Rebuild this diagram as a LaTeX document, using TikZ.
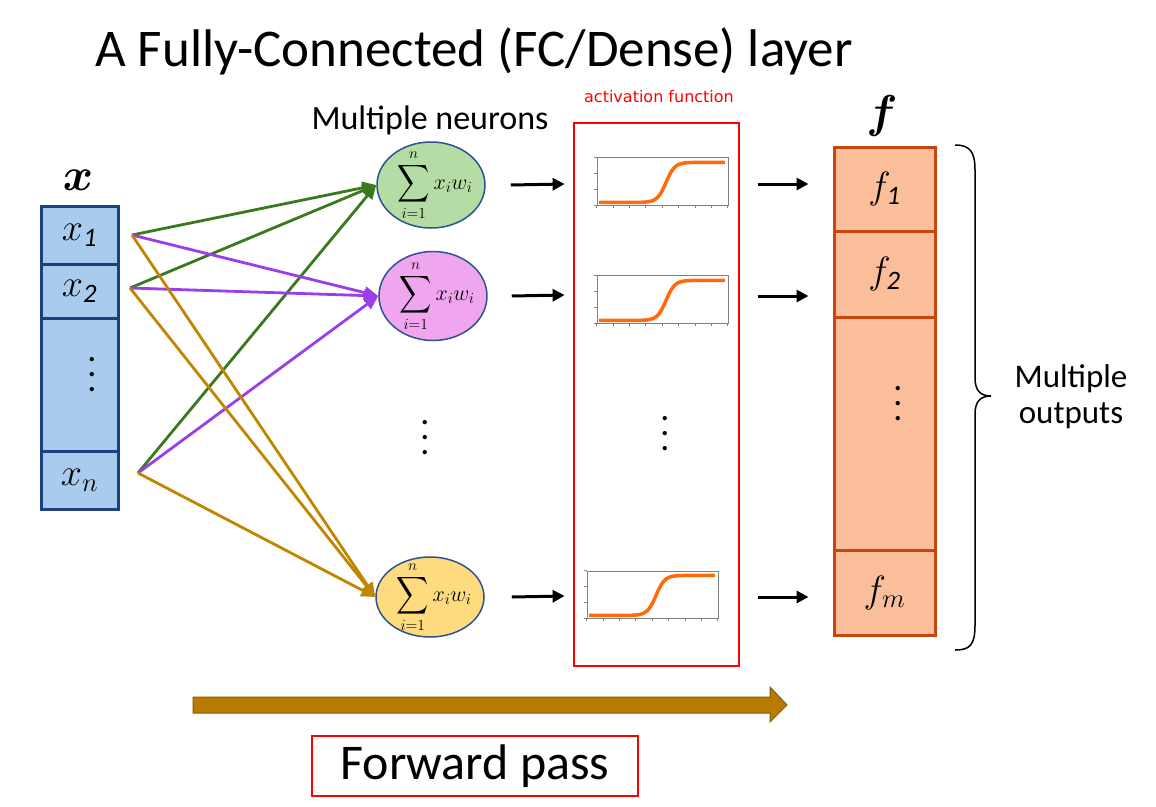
\RequirePackage{fix-cm}
\documentclass[tikz,border=0pt]{standalone}
\usepackage{amsmath}
\usepackage{graphicx}
\usepackage{fontspec}
\setmainfont{Carlito}
\newfontfamily\djv{DejaVu Sans}
\usetikzlibrary{arrows.meta,shapes.geometric}
\definecolor{inblue}{HTML}{A9CCEE}
\definecolor{inborder}{HTML}{1F4080}
\definecolor{cgreen}{HTML}{B4DCA4}
\definecolor{cpink}{HTML}{F0A6EE}
\definecolor{cyellow}{HTML}{FDDB7E}
\definecolor{ebord}{HTML}{2F528F}
\definecolor{lgreen}{HTML}{3A7A1E}
\definecolor{lpurple}{HTML}{9A3FE8}
\definecolor{lgold}{HTML}{C08600}
\definecolor{ffill}{HTML}{FBBE9B}
\definecolor{fbord}{HTML}{C8460A}
\definecolor{sigc}{HTML}{FF6A0A}
\definecolor{fwd}{HTML}{B87A00}
\definecolor{fwdb}{HTML}{8A5C00}
\tikzset{
  incell/.style={draw=inborder, fill=inblue, line width=3pt, minimum width=77pt, inner sep=0pt, font=\fontsize{38}{44}\selectfont},
  fcell/.style={draw=fbord, fill=ffill, line width=3pt, minimum width=101pt, inner sep=0pt, font=\fontsize{38}{44}\selectfont},
  neuron/.style={ellipse, draw=ebord, line width=1.5pt, minimum width=108pt, minimum height=86pt, inner sep=0pt},
  sumtext/.style={inner sep=0pt, font=\fontsize{22}{26}\selectfont},
  conn/.style={line width=2.8pt, -{Triangle[length=14pt,width=12pt]}},
  blk/.style={line width=3pt, black, -{Triangle[length=12pt,width=12pt]}},
  plotframe/.style={draw=gray, line width=0.8pt, minimum width=131pt, minimum height=48pt, inner sep=0pt},
  sig/.style={sigc, line width=3.5pt},
  dots/.style={align=center, inner sep=0pt, font=\fontsize{36}{15}\selectfont},
  bigfont/.style={font=\fontsize{46}{50}\selectfont}
}
\newcommand{\bigsum}{\mathop{\vcenter{\hbox{\scalebox{0.9}[1.05]{\fontsize{26}{26}\selectfont$\displaystyle\sum$}}}}\limits_{i=1}^{n} x_i w_i}
\newcommand{\vdotstext}{.\\.\\.}
\newcommand{\sigcurve}[1]{%
  \begin{scope}[shift={(#1.south west)}]
    \draw[sig] plot[domain=0.02:0.98, samples=60, smooth] ({131*\x}, {-3-40*(0.5+0.5*tanh(15*(\x-0.53)))});
    \foreach \k in {0,1,...,8} \draw[gray, line width=0.6pt] ({131*\k/8},0) -- ++(0,2.5);
    \foreach \k in {0,1,2,3} \draw[gray, line width=0.6pt] (0,{-48*\k/3}) -- ++(-2.5,0);
  \end{scope}}
\begin{document}
\begin{tikzpicture}[x=1pt,y=-1pt]
\useasboundingbox[fill=white] (0,0) rectangle (1156,806);

% title
\node[anchor=base west, inner sep=0pt, font=\fontsize{53}{60}\selectfont] (title) at (95,66) {A Fully-Connected (FC/Dense) layer};

% input vector
\node[bigfont] (xlab) at (78,180) {$\boldsymbol{x}$};
\node[incell, minimum height=58pt] (x1) at (79.5,235) {$x_{\mathit{1}}$};
\node[incell, minimum height=54pt] (x2) at (79.5,291) {$x_{\mathit{2}}$};
\node[incell, minimum height=133pt] (xd) at (79.5,384.5) {};
\node[incell, minimum height=58pt] (xn) at (79.5,480) {$x_n$};
\node[dots] (xdots) at (92,375) {\vdotstext};

\coordinate (o1) at (132,235);
\coordinate (o2) at (130,288);
\coordinate (on) at (138,473);

% neurons
\node[neuron, fill=cgreen] (g) at (431,185) {};
\node[sumtext] (gt) at ([xshift=4pt]g.center) {$\bigsum$};
\node[neuron, fill=cpink, minimum height=89pt] (p) at (433,296) {};
\node[sumtext] (pt) at ([xshift=4pt]p.center) {$\bigsum$};
\node[neuron, fill=cyellow, minimum height=80pt] (y) at (430,597) {};
\node[sumtext] (yt) at ([xshift=4pt]y.center) {$\bigsum$};
\node[dots] (ndots) at (425,438) {\vdotstext};
\node[font=\fontsize{34}{40}\selectfont] (mn) at (430,120) {Multiple neurons};

% connections
\draw[conn, lgreen] (o1) -- (g.west);
\draw[conn, lgreen] (o2) -- (g.west);
\draw[conn, lgreen] (on) -- (g.west);
\draw[conn, lpurple] (o1) -- (p.west);
\draw[conn, lpurple] (o2) -- (p.west);
\draw[conn, lpurple] (on) -- (p.west);
\draw[conn, lgold] (o1) -- (y.west);
\draw[conn, lgold] (o2) -- (y.west);
\draw[conn, lgold] (on) -- (y.west);

% activation box
\node[draw=red, line width=2pt, minimum width=165pt, minimum height=543pt, inner sep=0pt] (act) at (656.5,394.5) {};
\node[text=red, font=\djv\fontsize{16}{18}\selectfont] (actlab) at (659,97) {activation function};
\node[plotframe] (s1) at (662.5,181) {};
\node[plotframe] (s2) at (662.5,299) {};
\node[plotframe, minimum height=47pt] (s3) at (652.5,594.5) {};
\sigcurve{s1}
\sigcurve{s2}
\sigcurve{s3}
\node[dots] (adots) at (665,434) {\vdotstext};

% arrows neuron -> activation
\draw[blk] ([xshift=25pt]g.east) -- ([xshift=-32pt,yshift=-3pt]s1.west);
\draw[blk] ([xshift=24pt]p.east) -- ([xshift=-32pt,yshift=4pt]s2.west);
\draw[blk] ([xshift=27pt]y.east) -- ([xshift=-22pt,yshift=-1.5pt]s3.west);

% output vector
\node[bigfont] (flab) at (882,116) {$\boldsymbol{f}$};
\node[fcell, minimum height=84pt] (f1) at (884.5,189) {$f_{\mathit{1}}$};
\node[fcell, minimum height=86pt] (f2) at (884.5,274) {$f_{\mathit{2}}$};
\node[fcell, minimum height=233pt] (fd) at (884.5,433.5) {};
\node[fcell, minimum height=85pt] (fm) at (884.5,592.5) {$f_m$};
\node[dots] (fdots) at (898,404) {\vdotstext};

% arrows activation -> output
\draw[blk] ([xshift=18pt,yshift=210.5pt]act.east) -- ([xshift=-24pt,yshift=5pt]f1.west);
\draw[blk] ([xshift=18pt,yshift=98.5pt]act.east) -- ([xshift=-24pt,yshift=-22pt]f2.west);
\draw[blk] ([xshift=18pt,yshift=-202.5pt]act.east) -- ([xshift=-24pt,yshift=-4.5pt]fm.west);

% brace
\draw[line width=1.5pt] (955,145) .. controls (970,145) and (975,152) .. (975,170) -- (975,378)
  .. controls (975,390) and (980,396) .. (991,396)
  .. controls (980,396) and (975,402) .. (975,414) -- (975,625)
  .. controls (975,645) and (970,650) .. (955,650);
\node[align=center, font=\fontsize{33}{36}\selectfont] (mo) at (1071,397) {Multiple\\outputs};

% forward pass arrow
\draw[fill=fwd, draw=fwdb, line width=1pt] (193,697) -- (770,697) -- (770,687) -- (787,705) -- (770,722) -- (770,713) -- (193,713) -- cycle;
\node[draw=red, line width=2pt, minimum width=326pt, minimum height=60pt, inner sep=0pt, font=\fontsize{50}{56}\selectfont] (fp) at (475,766) {Forward pass};
\end{tikzpicture}
\end{document}
